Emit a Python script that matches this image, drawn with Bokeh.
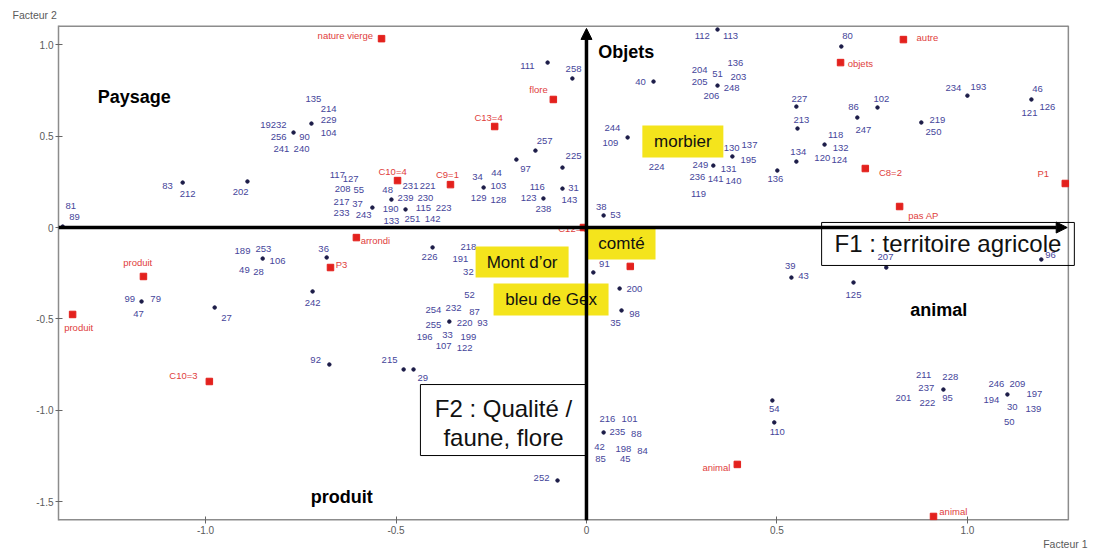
from bokeh.plotting import figure
from bokeh.models import Range1d, FixedTicker, Label, Arrow, NormalHead, CustomJSTickFormatter, Title
from bokeh.core.properties import value
from bokeh.embed import file_html
from bokeh.resources import INLINE

FONT = "Liberation Sans"

# ---- observations (individuals): dots ----
dot_x = [-1.375, -1.060, -0.890, -0.769, -0.722, -0.562, -0.512, -0.475, -0.270, -0.184,
         -0.134, -0.063, -0.063, -0.113, -0.102, -0.037, 0.045, 0.108, 0.176, 0.344,
         0.344, 0.383, 0.333, 0.501, 0.551, 0.554, 0.551, 0.625, 0.711, 0.764,
         0.669, 0.879, 1.000, 1.168, 1.194, 0.787, 0.538, 0.701, 0.488, 0.493,
         0.937, 1.105, 0.018, 0.087, 0.092, 0.045, -0.076, -0.404, -0.360, -0.480,
         -0.454, -0.682, -0.850, -0.719, -0.675, -0.976, -1.168]
dot_y = [0.005, 0.246, 0.252, 0.520, 0.569, 0.109, 0.153, 0.099, 0.219, 0.372,
         0.421, 0.328, 0.213, 0.159, 0.903, 0.816, 0.066, 0.493, 0.799, 1.084,
         0.777, 0.389, 0.339, 0.312, 0.662, 0.542, 0.361, 0.454, 0.602, 0.657,
         0.991, 0.575, 0.722, 0.701, -0.175, -0.219, -0.274, -0.301, -0.947, -1.067,
         -0.887, -0.914, -0.246, -0.334, -0.454, -1.122, -1.385, -0.109, -0.515, -0.777,
         -0.777, -0.164, -0.170, -0.350, -0.750, -0.438, -0.405]

# ---- observation labels ----
obs_text = ["81", "89", "83", "212", "202", "135", "214", "229", "104", "19232",
            "256", "90", "241", "240", "117", "127", "208", "55", "217", "37",
            "233", "243", "48", "231", "221", "239", "230", "190", "115", "223",
            "133", "251", "142", "34", "44", "103", "129", "128", "111", "258",
            "257", "225", "97", "116", "31", "123", "143", "238", "189", "253",
            "106", "49", "28", "36", "226", "218", "191", "32", "99", "79",
            "47", "27", "242", "92", "52", "254", "232", "87", "255", "220",
            "93", "196", "33", "199", "107", "122", "215", "29", "91", "200",
            "98", "35", "216", "101", "235", "88", "42", "198", "84", "85",
            "45", "252", "38", "53", "244", "109", "40", "112", "113", "204",
            "51", "136", "203", "205", "248", "206", "224", "130", "137", "195",
            "249", "131", "236", "141", "140", "119", "136", "227", "213", "134",
            "118", "132", "120", "124", "86", "247", "80", "102", "234", "193",
            "46", "121", "126", "219", "250", "207", "96", "39", "43", "125",
            "54", "110", "211", "228", "237", "201", "222", "95", "246", "209",
            "194", "197", "30", "139", "50"]
obs_lx = [-1.354, -1.344, -1.100, -1.047, -0.908, -0.717, -0.677, -0.677, -0.677, -0.822,
          -0.808, -0.740, -0.801, -0.748, -0.654, -0.619, -0.640, -0.598, -0.643, -0.601,
          -0.643, -0.585, -0.522, -0.462, -0.417, -0.475, -0.423, -0.514, -0.428, -0.375,
          -0.512, -0.457, -0.404, -0.286, -0.236, -0.231, -0.283, -0.231, -0.155, -0.034,
          -0.110, -0.034, -0.160, -0.129, -0.034, -0.152, -0.045, -0.113, -0.903, -0.848,
          -0.811, -0.898, -0.861, -0.690, -0.412, -0.310, -0.331, -0.310, -1.199, -1.131,
          -1.176, -0.945, -0.719, -0.711, -0.307, -0.402, -0.349, -0.294, -0.402, -0.320,
          -0.273, -0.425, -0.365, -0.310, -0.375, -0.320, -0.517, -0.430, 0.047, 0.126,
          0.126, 0.076, 0.055, 0.113, 0.081, 0.131, 0.034, 0.097, 0.147, 0.037,
          0.102, -0.118, 0.039, 0.076, 0.068, 0.063, 0.142, 0.304, 0.378, 0.297,
          0.344, 0.391, 0.399, 0.297, 0.381, 0.328, 0.184, 0.381, 0.428, 0.425,
          0.299, 0.373, 0.291, 0.339, 0.386, 0.294, 0.496, 0.559, 0.564, 0.556,
          0.654, 0.667, 0.619, 0.664, 0.701, 0.727, 0.685, 0.774, 0.963, 1.029,
          1.184, 1.163, 1.210, 0.921, 0.911, 0.785, 1.218, 0.535, 0.570, 0.701,
          0.493, 0.501, 0.885, 0.955, 0.892, 0.832, 0.895, 0.948, 1.076, 1.131,
          1.063, 1.176, 1.118, 1.173, 1.110]
obs_ly = [0.120, 0.055, 0.230, 0.186, 0.192, 0.701, 0.651, 0.591, 0.520, 0.564,
          0.493, 0.493, 0.432, 0.432, 0.285, 0.268, 0.213, 0.203, 0.137, 0.131,
          0.077, 0.066, 0.208, 0.230, 0.230, 0.159, 0.159, 0.099, 0.109, 0.109,
          0.033, 0.044, 0.044, 0.274, 0.301, 0.230, 0.159, 0.153, 0.887, 0.870,
          0.476, 0.389, 0.323, 0.224, 0.219, 0.159, 0.153, 0.099, -0.131, -0.115,
          -0.181, -0.230, -0.241, -0.115, -0.164, -0.109, -0.170, -0.246, -0.394, -0.394,
          -0.471, -0.493, -0.411, -0.728, -0.367, -0.454, -0.443, -0.460, -0.531, -0.520,
          -0.520, -0.597, -0.586, -0.597, -0.651, -0.662, -0.728, -0.826, -0.197, -0.334,
          -0.476, -0.520, -1.051, -1.051, -1.122, -1.133, -1.199, -1.210, -1.226, -1.270,
          -1.270, -1.374, 0.115, 0.066, 0.547, 0.465, 0.799, 1.051, 1.051, 0.865,
          0.843, 0.898, 0.826, 0.794, 0.766, 0.722, 0.334, 0.438, 0.454, 0.372,
          0.345, 0.323, 0.279, 0.268, 0.252, 0.186, 0.263, 0.706, 0.591, 0.411,
          0.504, 0.438, 0.383, 0.372, 0.662, 0.536, 1.051, 0.701, 0.766, 0.772,
          0.761, 0.629, 0.662, 0.591, 0.525, -0.159, -0.148, -0.208, -0.263, -0.372,
          -0.991, -1.117, -0.810, -0.821, -0.881, -0.936, -0.963, -0.936, -0.859, -0.854,
          -0.947, -0.914, -0.980, -0.996, -1.067]

# ---- modalities (red squares) ----
mod_x = [-0.538, -0.087, -0.241, -0.496, -0.357, -0.008, -0.604, -0.672, -1.163, -1.349,
         -0.990, 0.115, 0.667, 0.832, 0.732, 1.257, 0.822, 0.396, 0.911]
mod_y = [1.034, 0.701, 0.553, 0.257, 0.235, 0.000, -0.055, -0.219, -0.268, -0.476,
         -0.843, -0.213, 0.903, 1.029, 0.323, 0.241, 0.115, -1.297, -1.582]
mod_text = ["nature vierge", "flore", "C13=4", "C10=4", "C9=1", "C12=4", "arrondi", "P3",
            "produit", "produit", "C10=3", "objets", "autre", "C8=2", "P1", "pas AP",
            "animal", "animal"]
mod_lx = [-0.633, -0.126, -0.257, -0.509, -0.365, -0.037, -0.554, -0.643, -1.178, -1.333,
          -1.058, 0.719, 0.895, 0.798, 1.199, 0.885, 0.341, 0.963]
mod_ly = [1.051, 0.755, 0.602, 0.307, 0.290, -0.003, -0.071, -0.203, -0.192, -0.547,
          -0.810, 0.898, 1.040, 0.301, 0.296, 0.066, -1.314, -1.554]

# ---- region names (bold) ----
region_text = ["Paysage", "Objets", "animal", "produit"]
region_x = [-1.283, 0.031, 0.850, -0.724]
region_y = [0.712, 0.963, -0.454, -1.478]

# ---- cheese names (yellow boxes) ----
cheese_text = ["morbier", "comté", "Mont d’or", "bleu de Gex"]
cheese_x = [0.253, 0.092, -0.169, -0.093]
cheese_y = [0.471, -0.088, -0.189, -0.394]
cheese_box_w = [81, 68, 93, 115]   # style: box size in pixels
cheese_box_h = [32, 32, 31, 32]

# ---- factor titles ----
f1_text = "F1 : territoire agricole"
f1_pos = (0.949, -0.090)
f2_lines = ["F2 : Qualité /", "faune, flore"]
f2_box = (-0.218, -1.054)
f2_line_y = [-0.991, -1.149]

x_ticks = [-1.0, -0.5, 0.0, 0.5, 1.0]
y_ticks = [-1.5, -1.0, -0.5, 0.0, 0.5, 1.0]
X_MIN, X_MAX = -1.386, 1.265      # visible plot box
X_EXT = 1.310                     # drawing area extends a little to the right of the box
Y_MIN, Y_MAX = -1.604, 1.106

p = figure(frame_width=1027, frame_height=495,
           x_range=Range1d(X_MIN, X_EXT), y_range=Range1d(Y_MIN, Y_MAX),
           output_backend="svg", toolbar_location=None,
           min_border_left=58, min_border_right=5, min_border_top=25, min_border_bottom=20)
p.grid.visible = False
p.background_fill_color = "white"
p.border_fill_color = "white"
p.outline_line_color = None

fmt = CustomJSTickFormatter(code="return tick == 0 ? '0' : tick.toFixed(1);")
for ax, ticks in ((p.xaxis, x_ticks), (p.yaxis, y_ticks)):
    ax.ticker = FixedTicker(ticks=ticks)
    ax.formatter = fmt
    ax.axis_line_color = "#8c8c8c"
    ax.axis_line_width = 1.5
    ax.major_tick_line_color = "#666666"
    ax.major_tick_in = 4
    ax.major_tick_out = 3
    ax.minor_tick_line_color = None
    ax.major_label_text_font = FONT
    ax.major_label_text_font_size = "10px"
    ax.major_label_text_color = "#5a5a5a"
    ax.major_label_standoff = 2
p.xaxis.axis_line_color = None

# visible plot box (top, bottom, right edges)
p.segment(x0=[X_MIN, X_MIN], y0=[Y_MAX, Y_MIN], x1=[X_MAX, X_MAX], y1=[Y_MAX, Y_MIN],
          line_color="#8c8c8c", line_width=3)
p.segment(x0=[X_MAX], y0=[Y_MIN], x1=[X_MAX], y1=[Y_MAX], line_color="#8c8c8c", line_width=1.5)

# observation dots and labels
p.scatter(dot_x, dot_y, size=3.5, marker="circle", color="#1c1c48")
p.text(obs_lx, obs_ly, text=obs_text, text_font=value(FONT), text_font_size="9.5px",
       text_color="#45459a", text_align="center", text_baseline="middle")

# modalities
p.text(mod_lx, mod_ly, text=mod_text, text_font=value(FONT), text_font_size="9.5px",
       text_color="#e0403c", text_align="center", text_baseline="middle")
p.scatter(mod_x, mod_y, size=6.5, marker="square", color="#e3211d")

# region names
p.text(region_x, region_y, text=region_text, text_font=value(FONT), text_font_size="18px",
       text_font_style="bold", text_color="black", text_align="left", text_baseline="middle")

# cheese boxes
p.rect(cheese_x, cheese_y, width=cheese_box_w, height=cheese_box_h,
       width_units="screen", height_units="screen", fill_color="#f4e41c", line_color=None)
p.text(cheese_x, cheese_y, text=cheese_text, text_font=value(FONT), text_font_size="17px",
       text_color="#111111", text_align="center", text_baseline="middle")

# F2 box
p.rect([f2_box[0]], [f2_box[1]], width=166, height=71, width_units="screen", height_units="screen",
       fill_color="white", line_color="black", line_width=1)
p.text([f2_box[0]] * 2, f2_line_y, text=f2_lines, text_font=value(FONT), text_font_size="24px",
       text_color="#111111", text_align="center", text_baseline="middle")

# main axes with arrows
p.add_layout(Arrow(end=NormalHead(size=11, fill_color="black", line_color="black"),
                   x_start=X_MIN, y_start=0, x_end=1.262, y_end=0,
                   line_color="black", line_width=3.5))
p.add_layout(Arrow(end=NormalHead(size=11, fill_color="black", line_color="black"),
                   x_start=0, y_start=Y_MIN, x_end=0, y_end=1.090,
                   line_color="black", line_width=3.5))

# F1 title box
p.add_layout(Label(x=f1_pos[0], y=f1_pos[1], text=f1_text, text_font=FONT, text_font_size="24px",
                   text_color="#111111", text_align="center", text_baseline="middle",
                   border_line_color="black", border_line_width=1, background_fill_color=None,
                   padding=(13, 8)))

# axis names
p.title.text = "Facteur 2"
p.title.align = "left"
p.title.offset = -46
p.title.standoff = 10
p.title.text_font = FONT
p.title.text_font_size = "10.5px"
p.title.text_font_style = "normal"
p.title.text_color = "#5a5a5a"
p.add_layout(Title(text="Facteur 1", align="right", offset=-2, standoff=2, vertical_align="top",
                   text_font=FONT, text_font_size="10.5px", text_font_style="normal",
                   text_color="#5a5a5a"), "below")

open("out.html", "w").write(file_html(p, INLINE))
